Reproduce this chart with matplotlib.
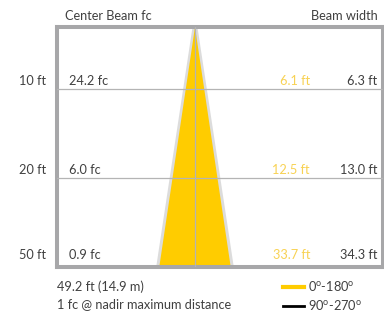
import matplotlib.pyplot as plt
from matplotlib.lines import Line2D
from matplotlib.patches import Polygon
import matplotlib.transforms as mtransforms

# Data
distances = ["10 ft", "20 ft", "50 ft"]
center_fc = [24.2, 6.0, 0.9]
width_0_180 = [6.1, 12.5, 33.7]
width_90_270 = [6.3, 13.0, 34.3]
max_dist_ft = 49.2
max_dist_m = 14.9
legend_labels = [r"0$^{\rm o}$-180$^{\rm o}$", r"90$^{\rm o}$-270$^{\rm o}$"]

row_pos = [0.7, 1.7, 2.7]

yellow = "#ffcc00"
yellow_txt = "#f8d254"
grid_c = "#b4b4b4"
frame_c = "#a7a7a9"
txt_c = "#404040"

plt.rcParams["font.family"] = ["Lato", "DejaVu Sans"]
plt.rcParams["mathtext.fontset"] = "custom"
plt.rcParams["mathtext.rm"] = "Lato"
fs = 9.2

fig = plt.figure(figsize=(3.84, 3.16), dpi=100)
W, H = 384, 316
ax = fig.add_axes([57 / W, 1 - 267 / H, 326 / W, 240 / H])

ax.set_xlim(-65.1, 88.7)
ax.set_ylim(row_pos[-1], 0)
ax.set_xticks([])
ax.set_yticks([])
for s in ax.spines.values():
    s.set_color(frame_c)
    s.set_linewidth(2.9)

# beam triangles
bot = row_pos[-1]
g = Polygon([(0, 0), (-width_90_270[-1] / 2, bot), (width_90_270[-1] / 2, bot)],
            closed=True, facecolor="#dcdcdc", edgecolor="#dcdcdc", lw=3.5,
            joinstyle="round", zorder=1)
ax.add_patch(g)
y = Polygon([(0, 0), (-width_0_180[-1] / 2, bot), (width_0_180[-1] / 2, bot)],
            closed=True, facecolor=yellow, edgecolor="none", zorder=2)
ax.add_patch(y)

# grid lines
for p in row_pos[:-1]:
    ax.axhline(p, color=grid_c, lw=0.9, zorder=3)
ax.axvline(0, color=grid_c, lw=0.9, zorder=3)

# row text
bx = ax.get_yaxis_transform()
offsets = [4, 4, 8]
for i, p in enumerate(row_pos):
    tr = mtransforms.offset_copy(bx, fig=fig, x=0, y=offsets[i], units="dots")
    ax.text(-0.034, p, distances[i], transform=tr, ha="right", va="baseline",
            fontsize=fs, color=txt_c)
    ax.text(0.037, p, f"{center_fc[i]:.1f} fc", transform=tr, ha="left",
            va="baseline", fontsize=fs, color=txt_c)
    ax.text(0.776, p, f"{width_0_180[i]:.1f} ft", transform=tr, ha="right",
            va="baseline", fontsize=fs, color=yellow_txt)
    ax.text(0.982, p, f"{width_90_270[i]:.1f} ft", transform=tr, ha="right",
            va="baseline", fontsize=fs, color=txt_c)

# headers
fig.text(65 / W, 1 - 20 / H, "Center Beam fc", ha="left", va="baseline",
         fontsize=fs, color=txt_c)
fig.text(378 / W, 1 - 20 / H, "Beam width", ha="right", va="baseline",
         fontsize=fs, color=txt_c)

# footer
fig.text(57 / W, 1 - 291 / H, f"{max_dist_ft} ft ({max_dist_m} m)", ha="left",
         va="baseline", fontsize=fs, color=txt_c)
fig.text(57 / W, 1 - 308 / H, "1 fc @ nadir maximum distance", ha="left",
         va="baseline", fontsize=fs, color=txt_c)

handles = [Line2D([], [], color=yellow, lw=3),
           Line2D([], [], color="black", lw=2)]
fig.legend(handles, legend_labels, loc="upper left",
           bbox_to_anchor=(277 / W, 1 - 273 / H), frameon=False, fontsize=fs,
           handlelength=1.6, handletextpad=0.35, labelspacing=0.4,
           borderpad=0, labelcolor=txt_c)

fig.savefig("out.png", dpi=100)
